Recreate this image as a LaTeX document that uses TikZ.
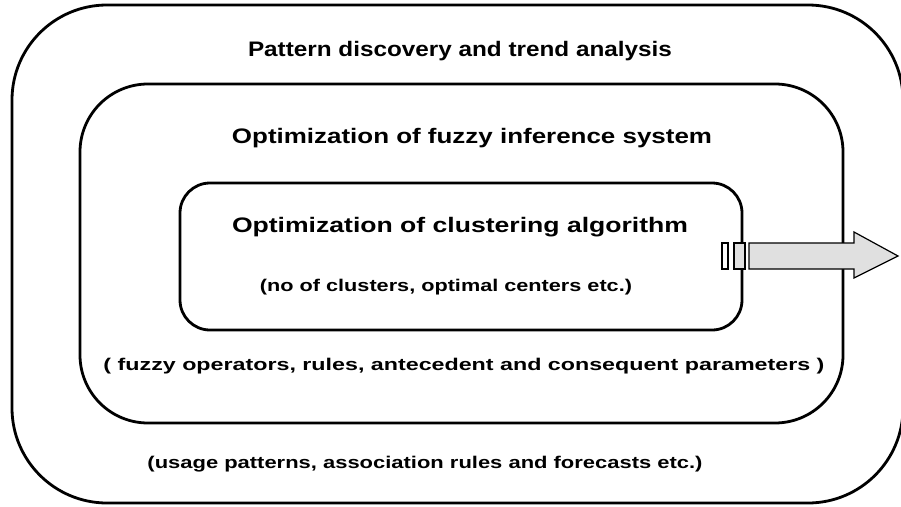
\documentclass[tikz,border=0pt]{standalone}
\usepackage{fontspec}
\setmainfont{Liberation Sans}
\newcommand{\wtext}[2]{\resizebox{#1}{\height}{#2}}
\begin{document}
\begin{tikzpicture}[x=1pt,y=-1pt,
  box/.style={draw=black,line width=2.8pt,rounded corners=#1,inner sep=0pt},
  title/.style={font=\bfseries\fontsize{21}{24}\selectfont,inner sep=0pt},
  sub/.style={font=\bfseries\fontsize{17}{20}\selectfont,inner sep=0pt},
  arr/.style={draw=black,line width=1.2pt,fill=#1}]
\useasboundingbox (0,0) rectangle (901,506);
\clip (0,0) rectangle (901,506);
\node[box=95pt,minimum width=891pt,minimum height=498pt] (outer) at (457.5,254) {};
\node[box=68pt,minimum width=763pt,minimum height=339pt] (middle) at (461.5,253.5) {};
\node[box=30pt,minimum width=562pt,minimum height=147pt] (inner) at (461,256.5) {};
\node[title] (t1) at (460,51) {\wtext{424pt}{Pattern discovery and trend analysis}};
\node[title] (t2) at (472,138) {\wtext{480pt}{Optimization of fuzzy inference system}};
\node[title] (t3) at (460,227) {\wtext{456pt}{Optimization of clustering algorithm}};
\node[sub] (t4) at (446,287) {\wtext{372pt}{(no of clusters, optimal centers etc.)}};
\node[sub] (t5) at (464,366) {\wtext{721pt}{( fuzzy operators, rules, antecedent and consequent parameters )}};
\node[sub] (t6) at (425,464) {\wtext{555pt}{(usage patterns, association rules and forecasts etc.)}};
\draw[arr=white] (722,243) rectangle (728,269);
\draw[arr=black!12] (734,243) rectangle (745,269);
\draw[arr=black!12] (749,243) -- (854,243) -- (854,232) -- (898,256) -- (854,278) -- (854,269) -- (749,269) -- cycle;
\end{tikzpicture}
\end{document}
